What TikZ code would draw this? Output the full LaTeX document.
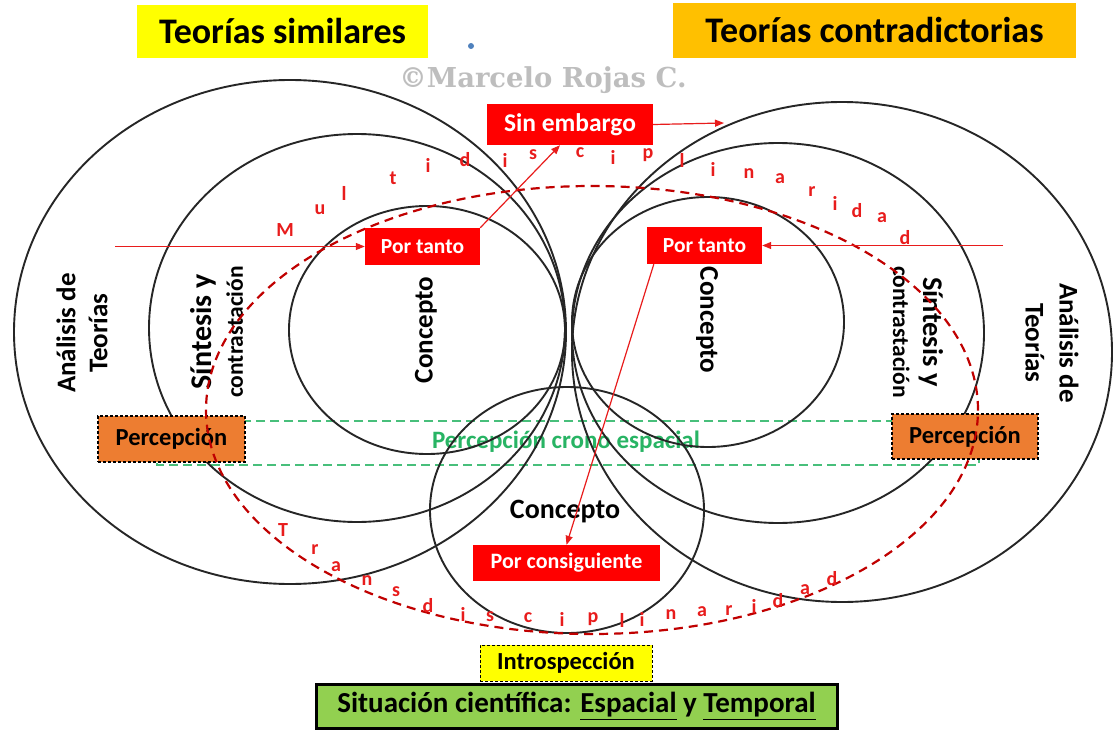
\documentclass[tikz,border=0pt]{standalone}
\usepackage{fontspec}
\setmainfont{Carlito}
\newfontfamily\copyfont{DejaVu Serif}
\usetikzlibrary{arrows.meta,calc}
\definecolor{ttyellow}{RGB}{255,255,0}
\definecolor{ttorange}{RGB}{255,192,0}
\definecolor{boxred}{RGB}{255,0,0}
\definecolor{lred}{RGB}{232,28,28}
\definecolor{dred}{RGB}{192,0,0}
\definecolor{percorange}{RGB}{237,125,49}
\definecolor{sitgreen}{RGB}{146,208,80}
\definecolor{dgreen}{RGB}{40,180,100}
\definecolor{dotblue}{RGB}{79,129,189}
\definecolor{cgray}{RGB}{190,190,190}
\newcommand{\fsz}[2]{\fontsize{#1pt}{#2pt}\selectfont}
\tikzset{
  circ/.style={draw=black!85, line width=1.9pt},
  redbox/.style={fill=boxred, text=white, inner sep=0pt, font=\bfseries\fsz{21.5}{25}},
  percbox/.style={fill=percorange, draw=black, dash pattern=on 3pt off 2pt, line width=1.1pt, inner sep=0pt, font=\bfseries\fsz{24.5}{28}},
  rarrow/.style={draw=lred, line width=1.2pt, -{Triangle[length=9pt,width=7pt]}},
  letter/.style={text=lred, font=\bfseries\fsz{20}{23}, inner sep=0pt},
  lbl/.style={font=\bfseries\fsz{27}{32}, align=center, inner sep=0pt},
}
\begin{document}
\begin{tikzpicture}[x=1pt,y=-1pt]
\useasboundingbox (0,0) rectangle (1116,733);
\fill[white] (0,0) rectangle (1116,733);

% green chrono-spatial band
\draw[dgreen!85, line width=1.5pt, dash pattern=on 9pt off 5pt] (157,421) rectangle (979,465);
\node[text=dgreen, font=\bfseries\fsz{25}{29}] (pce) at (566,442) {Percepción crono espacial};

% circles
\draw[circ] (290,332) ellipse [x radius=276pt, y radius=252pt];
\draw[circ] (357,328) ellipse [x radius=208pt, y radius=194pt];
\draw[circ] (427,330) ellipse [x radius=138pt, y radius=124pt];
\draw[circ] (708,322) ellipse [x radius=136pt, y radius=125pt];
\draw[circ] (778,333) ellipse [x radius=206pt, y radius=190pt];
\draw[circ] (842,352) ellipse [x radius=270pt, y radius=250pt];
\draw[circ] (567,510) ellipse [x radius=137pt, y radius=123pt];

% rotated labels
\node[lbl, rotate=90] (anL) at (82,333) {Análisis de\\Teorías};
\node[lbl, rotate=90, font=\bfseries\fsz{30}{31}] (siL) at (217,332) {Síntesis y\\{\fsz{23.5}{26}contrastación}};
\node[lbl, rotate=90] (coL) at (426,330) {Concepto};
\node[lbl, rotate=-90] (coR) at (707,320) {Concepto};
\node[lbl, rotate=-90, font=\bfseries\fsz{28.5}{30}] (siR) at (918,332) {Síntesis y\\{\fsz{23.5}{26}contrastación}};
\node[lbl, rotate=-90, font=\bfseries\fsz{27}{34}] (anR) at (1052,343) {Análisis de\\Teorías};
\node[lbl, font=\bfseries\fsz{28}{32}] (coB) at (565,512) {Concepto};

% percepcion boxes
\node[percbox, minimum width=147pt, minimum height=46pt] (perL) at (171.5,439) {Percepción};
\node[percbox, minimum width=146pt, minimum height=45pt] (perR) at (965,436.5) {Percepción};

% dashed red ellipse
\draw[dred, line width=2.2pt, dash pattern=on 9pt off 6pt] (592,410) ellipse [x radius=386pt, y radius=224pt];

% red boxes
\node[redbox, minimum width=166pt, minimum height=41pt, font=\bfseries\fsz{25.5}{29}] (sin) at (570,124.5) {Sin embargo};
\node[redbox, minimum width=115pt, minimum height=37pt] (pt1) at (422.5,246.5) {Por tanto};
\node[redbox, minimum width=115pt, minimum height=37pt] (pt2) at (704.5,245.5) {Por tanto};
\node[redbox, minimum width=187pt, minimum height=36pt, font=\bfseries\fsz{22}{26}] (pc) at (566.5,563) {Por consiguiente};

% arrows
\coordinate (inL) at (115,246.5);
\coordinate (inR) at (1003,245.5);
\coordinate (outS) at (724,123);
\draw[rarrow] (inL) -- (pt1.west);
\draw[rarrow] (pt1.north east) -- ([xshift=-10pt]sin.south);
\draw[rarrow] (sin.east) -- (outS);
\draw[rarrow] (inR) -- (pt2.east);
\draw[rarrow] ([xshift=7pt]pt2.south west) -- (pc.north);

% letters
\foreach \l/\x/\y [count=\i] in {M/285/230,u/320/210,l/344/193,t/393/178,i/428/165,d/465/160,i/505/160,s/533/155,c/580/153,i/613/157,p/648/155,l/682/160,i/713/169,n/749/174,a/780/179,r/812/192,i/835/203,d/857/211,a/882/218,d/905/238}
  \node[letter] (m\i) at (\x,\y) {\l};
\foreach \l/\x/\y [count=\i] in {T/283/530,r/315/550,a/336/567,n/367/581,s/396/592,d/428/606,i/463/614,s/490/617,c/528/618,i/562/619,p/593/619,l/622/620,i/642/619,n/671/615,a/702/612,r/729/611,i/754/606,d/778/601,a/805/590,d/832/579}
  \node[letter] (t\i) at (\x,\y) {\l};

% titles
\node[fill=ttyellow, minimum width=291pt, minimum height=53pt, inner sep=0pt, font=\bfseries\fsz{36}{42}] (ts) at (282.5,31.5) {Teorías similares};
\node[fill=ttorange, minimum width=403pt, minimum height=55pt, inner sep=0pt, font=\bfseries\fsz{36}{42}] (tc) at (874.5,30.5) {Teorías contradictorias};
\fill[dotblue] (471,46) circle (3pt);
\node[text=cgray, inner sep=0pt] (copy) at (543,80) {\resizebox{287pt}{!}{\copyfont\bfseries ©Marcelo Rojas C.}};

% bottom boxes
\node[fill=ttyellow, draw=black, dash pattern=on 3pt off 2pt, line width=1pt, minimum width=172pt, minimum height=36pt, inner sep=0pt, font=\bfseries\fsz{24.5}{28}] (intro) at (566,663) {Introspección};
\node[fill=sitgreen, draw=black, line width=3pt, minimum width=521pt, minimum height=44pt, inner sep=0pt, font=\bfseries\fsz{29}{33}] (sit) at (576.5,706) {Situación científica: \underline{Espacial} y \underline{Temporal}};
\end{tikzpicture}
\end{document}
